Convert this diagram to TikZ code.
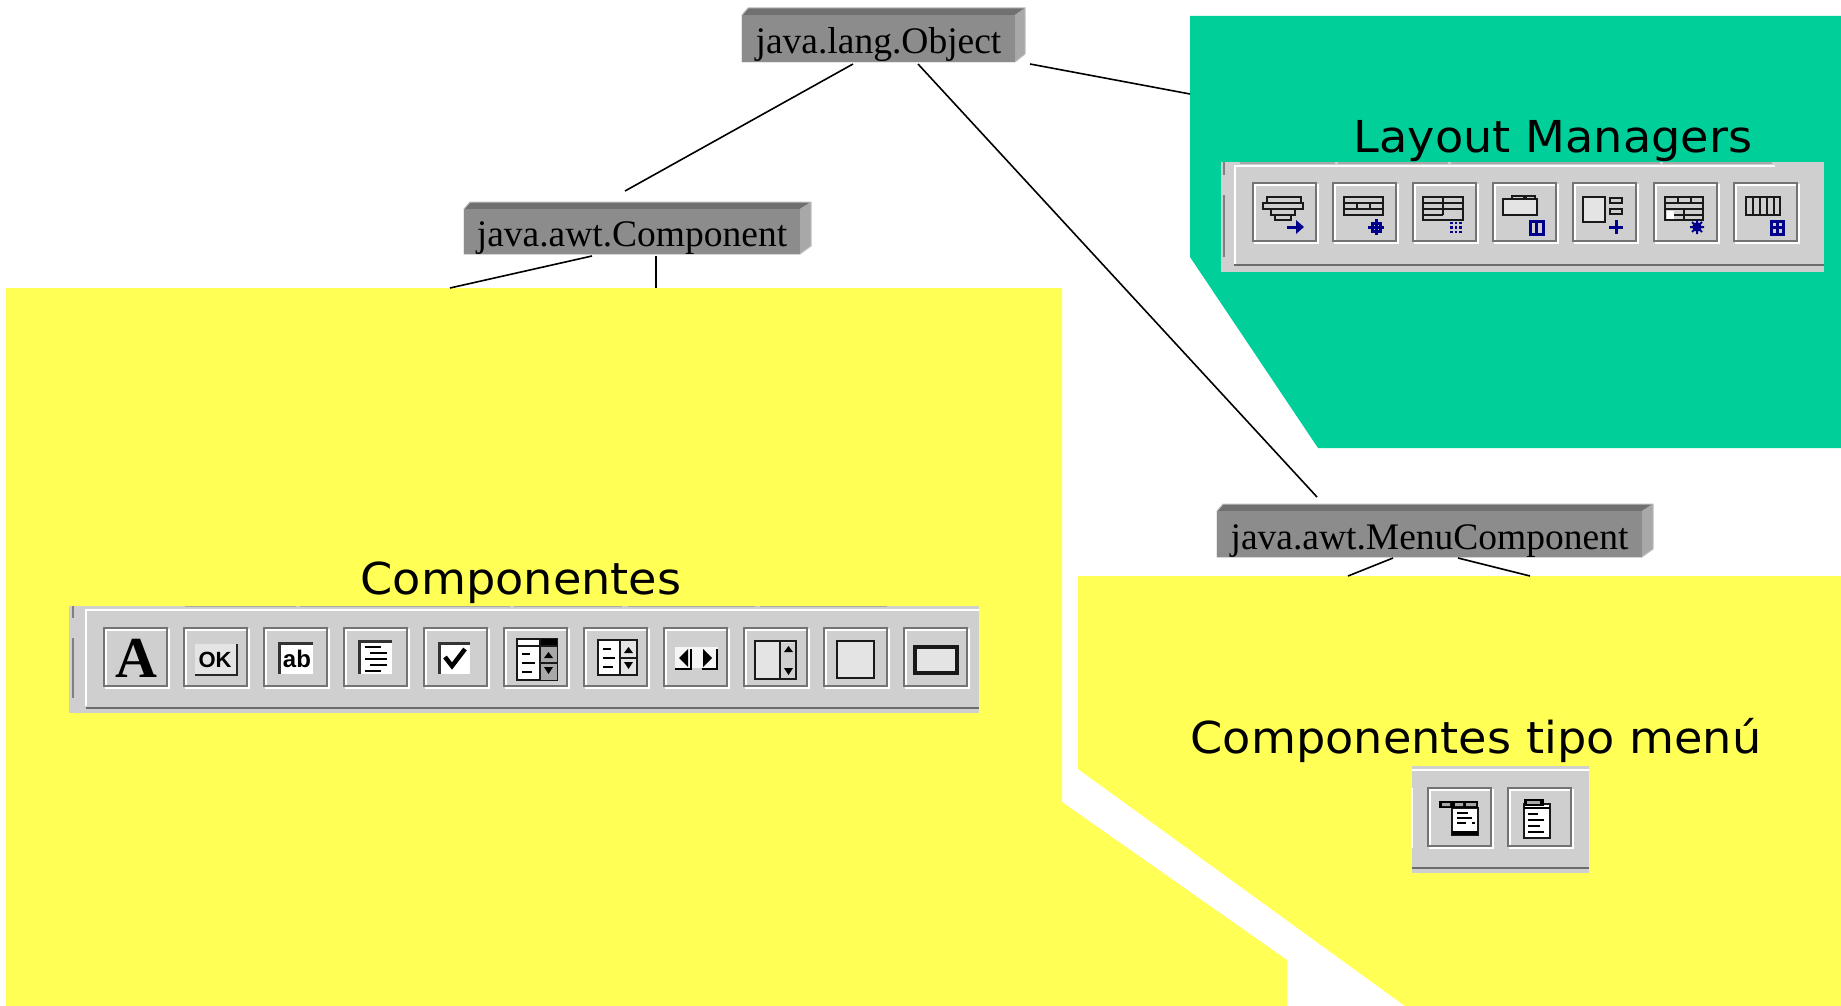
\documentclass[tikz,border=0pt]{standalone}
\usepackage{fontspec}
\setmainfont{Liberation Serif}
\newfontfamily\headfont[FakeStretch=1.05]{DejaVu Sans}
\newfontfamily\iconsans{Liberation Sans}
\usetikzlibrary{calc}
\definecolor{teal1}{HTML}{00CF9A}
\definecolor{yel}{HTML}{FFFF55}
\definecolor{barg}{HTML}{CFCFCF}
\definecolor{frontg}{HTML}{8C8C8C}
\definecolor{topg}{HTML}{707070}
\definecolor{sideg}{HTML}{A8A8A8}
\definecolor{navy}{HTML}{00008C}
\definecolor{dith}{HTML}{E4E4E4}
\tikzset{
  conn/.style={draw=black,line width=1.6pt},
  classbox/.style={rectangle,fill=frontg,inner sep=0pt,text height=31pt,text depth=1pt,
    font=\fontsize{37.5}{40}\selectfont},
  head/.style={anchor=base,inner sep=0pt,font=\fontsize{44}{46}\headfont},
  ico/.style={draw=black!90,line width=2.9pt,line join=miter},
  icw/.style={ico,fill=white},
  icd/.style={ico,fill=dith},
  blu/.style={draw=navy,line width=3pt},
  tb/.style={fill=barg,draw=none},
  tbw/.style={draw=white,line width=2pt},
  tbd/.style={draw=gray!85!black,line width=2.6pt},
  btnd/.style={draw=gray!90!black,line width=2.2pt},
  btnw/.style={draw=white,line width=2.2pt},
}
% class box: name, front x1,y1,x2,y2, bevel outer x, outer y, text
\newcommand{\classbox}[8]{%
  \fill[topg] (#2,#3) -- (#2+6,#7) -- (#6,#7) -- (#4,#3) -- cycle;
  \fill[sideg] (#4,#3) -- (#6,#7) -- (#6,#5-8) -- (#4,#5) -- cycle;
  \draw[black!25,line width=1pt] (#2,#3) -- (#2+6,#7) -- (#6,#7) -- (#6,#5-8) -- (#4,#5) -- (#2,#5) -- cycle;
  \node[classbox,minimum width=#4pt-#2pt,minimum height=#5pt-#3pt] (#1) at ({(#2+#4)/2},{(#3+#5)/2}) {#8};
}
\newcommand{\tbtn}[3]{%
  \begin{scope}[shift={(#1,#2)}]
    \draw[btnw] (2,2) rectangle (65,60);
    \draw[btnd] (0,0) rectangle (63,58);
    #3
  \end{scope}}
\begin{document}
\begin{tikzpicture}[x=1pt,y=-1pt]
\useasboundingbox (0,0) rectangle (1841,1006);
\fill[white] (0,0) rectangle (1841,1006);
% regions
\fill[teal1] (1190,16) -- (1841,16) -- (1841,448) -- (1318,448) -- (1190,257) -- cycle;
\fill[yel] (6,288) -- (1062,288) -- (1062,802) -- (1287,960) -- (1287,1006) -- (6,1006) -- cycle;
\fill[yel] (1078,576) -- (1841,576) -- (1841,1006) -- (1405,1006) -- (1078,769) -- cycle;
% class boxes
\classbox{obj}{742}{15}{1015}{62}{1025}{8}{java.lang.Object}
\classbox{comp}{464}{209}{800}{254}{811}{202}{java.awt.Component}
\classbox{menu}{1217}{511}{1642}{557}{1653}{504}{java.awt.MenuComponent}
% connector ends
\coordinate (o1) at (853,64);   \coordinate (c0) at (625,191);
\coordinate (o2) at (918,64);   \coordinate (m0) at (1317,497);
\coordinate (o3) at (1030,64);  \coordinate (l0) at (1190,94);
\coordinate (c1) at (592,256);  \coordinate (y1) at (450,288);
\coordinate (c2) at (656,256);  \coordinate (y2) at (656,288);
\coordinate (m1) at (1393,558); \coordinate (y3) at (1348,576);
\coordinate (m2) at (1458,558); \coordinate (y4) at (1530,576);
\draw[conn] (o1) -- (c0);
\draw[conn] (o2) -- (m0);
\draw[conn] (o3) -- (l0);
\draw[conn] (c1) -- (y1);
\draw[conn] (c2) -- (y2);
\draw[conn] (m1) -- (y3);
\draw[conn] (m2) -- (y4);
% headings
\node[head] (hl) at (1553,152) {Layout Managers};
\node[head] (hc) at (521,594) {Componentes};
\node[head] (hm) at (1476,753) {Componentes tipo menú};
% ---------- layout toolbar
\fill[tb] (1221,162) rectangle (1824,272);
\draw[tbw] (1235,264) -- (1235,166) -- (1775,166);
\draw[sideg,line width=1.2pt] (1240,163) -- (1335,163) (1338,163) -- (1448,163) (1451,163) -- (1660,163) (1663,163) -- (1772,163);
\draw[tbd] (1234,265) -- (1824,265);
\draw[gray,line width=1.5pt] (1224,162) -- (1224,175) (1224,195) -- (1224,257);
\tbtn{1253}{183}{
  \draw[ico] (14,14) rectangle (48,20) (10,20) rectangle (50,26) (18,26) rectangle (42,32) (22,32) rectangle (38,37);
  \draw[blu] (34,44) -- (44,44); \fill[navy] (43,37) -- (51,44) -- (43,51) -- cycle;
}
\tbtn{1333}{183}{
  \draw[ico] (11,14) rectangle (50,32) (11,20) -- (50,20) (11,26) -- (50,26) (24,20) -- (24,26) (37,20) -- (37,26);
  \draw[blu] (43,36) -- (43,52) (35,44) -- (51,44);
  \draw[blu] (39,40) rectangle (47,48);
}
\tbtn{1413}{183}{
  \draw[ico] (10,14) rectangle (50,37) (10,20) -- (50,20) (10,26) -- (50,26) (10,32) -- (30,32) (30,14) -- (30,32);
  \draw[navy,line width=2.8pt,dash pattern=on 2.8pt off 1.8pt] (37,40) -- (50,40) (37,44.5) -- (50,44.5) (37,49) -- (50,49);
}
\tbtn{1493}{183}{
  \draw[icd] (10,16) rectangle (44,32);
  \draw[ico] (19,16) -- (19,13) -- (31,13) -- (31,16) (33,16) -- (33,13) -- (42,13) -- (42,16);
  \draw[blu] (37,38) rectangle (50,51) (43.5,38) -- (43.5,51);
}
\tbtn{1573}{183}{
  \draw[icd] (10,14) rectangle (32,39);
  \draw[ico] (37,15) rectangle (49,20) (37,26) rectangle (49,31);
  \draw[blu] (43,37) -- (43,51) (36,44) -- (50,44);
}
\tbtn{1654}{183}{
  \draw[ico] (11,14) rectangle (49,37) (11,20) -- (49,20) (11,26) -- (49,26) (20,32) -- (49,32) (24,14) -- (24,20) (37,14) -- (37,20) (30,26) -- (30,37);
  \fill[white] (13,27.5) rectangle (20,35.5);
  \draw[navy,line width=2.4pt] (43,44) circle (3.5);
  \draw[navy,line width=2pt] (43,37) -- (43,51) (36,44) -- (50,44) (38,39) -- (48,49) (38,49) -- (48,39);
}
\tbtn{1734}{183}{
  \draw[ico] (12,14) rectangle (46,32) (19,14) -- (19,32) (26,14) -- (26,32) (33,14) -- (33,32) (40,14) -- (40,32);
  \draw[blu] (37,38) rectangle (49,51) (43,38) -- (43,51) (37,44.5) -- (49,44.5);
}
% ---------- component toolbar
\fill[tb] (69,606) rectangle (979,713);
\draw[tbw] (86,706) -- (86,610) -- (979,610);
\draw[tbd] (86,708) -- (979,708);
\draw[gray,line width=1.5pt] (73,606) -- (73,618) (73,638) -- (73,698);
\draw[sideg,line width=1.2pt] (185,606.5) -- (296,606.5) (300,606.5) -- (510,606.5) (514,606.5) -- (622,606.5) (628,606.5) -- (755,606.5) (760,606.5) -- (887,606.5);
\tbtn{104}{628}{
  \node[inner sep=0pt] (ia) at (32,30) {\fontsize{58}{58}\selectfont\bfseries A};
}
\tbtn{184}{628}{
  \fill[dith] (11,16) rectangle (53,47);
  \draw[black!85,line width=2.8pt] (53,16) -- (53,47) -- (11,47);
  \node[inner sep=0pt] (iok) at (31,32) {\fontsize{22}{22}\iconsans\bfseries OK};
}
\tbtn{264}{628}{
  \fill[white] (14,14) rectangle (49,46);
  \draw[black!80,line width=3pt] (15,46) -- (15,15) -- (49,15);
  \node[inner sep=0pt] (iab) at (33,31) {\fontsize{24}{24}\iconsans\bfseries ab};
}
\tbtn{344}{628}{
  \fill[white] (14,12) rectangle (48,46);
  \draw[black!80,line width=3pt] (15,46) -- (15,13) -- (48,13);
  \draw[black,line width=2.6pt] (21,19) -- (37,19) (26,25) -- (43,25) (21,31) -- (43,31) (26,37) -- (43,37) (21,43) -- (37,43);
}
\tbtn{424}{628}{
  \fill[white] (14,14) rectangle (46,46);
  \draw[black!80,line width=3pt] (15,46) -- (15,15) -- (46,15);
  \draw[black,line width=4.5pt] (21,29) -- (28,38) -- (41,21);
}
\tbtn{504}{628}{
  \draw[icw] (13,11) rectangle (53,52);
  \fill[black] (36,11) rectangle (53,18); \fill[white] (15,13) rectangle (34,17);
  \fill[sideg] (37,19) rectangle (53,52);
  \draw[ico] (13,18) -- (53,18) (36,11) -- (36,52) (36,35) -- (53,35);
  \draw[black,line width=2.6pt] (18,26) -- (26,26) (18,35) -- (31,35) (18,44) -- (28,44);
  \fill[black] (40,30) -- (44.5,24) -- (49,30) -- cycle;
  \fill[black] (40,39) -- (44.5,46) -- (49,39) -- cycle;
}
\tbtn{584}{628}{
  \draw[icw] (14,12) rectangle (53,47);
  \fill[dith] (37,13) rectangle (52,46);
  \draw[ico] (36,12) -- (36,47) (36,30) -- (53,30);
  \draw[black,line width=2.6pt] (19,21) -- (27,21) (19,30) -- (31,30) (19,39) -- (29,39);
  \fill[black] (40,25) -- (44.5,19) -- (49,25) -- cycle;
  \fill[black] (40,34) -- (44.5,41) -- (49,34) -- cycle;
}
\tbtn{664}{628}{
  \fill[white!92!gray] (11,19) rectangle (54,40);
  \fill[black] (24,21) -- (15,30) -- (24,39) -- cycle;
  \fill[black] (39,21) -- (48,30) -- (39,39) -- cycle;
  \draw[black,line width=2.6pt] (11,41) -- (27,41) -- (27,21) (38,41) -- (53,41) -- (53,21);
}
\tbtn{744}{628}{
  \draw[icd] (11,13) rectangle (52,51);
  \fill[dith!80!gray] (37,14.5) rectangle (50.5,49.5);
  \draw[ico] (36,13) -- (36,51);
  \fill[black] (40,24) -- (44.5,18) -- (49,24) -- cycle;
  \fill[black] (40,40) -- (44.5,47) -- (49,40) -- cycle;
}
\tbtn{824}{628}{
  \draw[icd] (13,13) rectangle (50,50);
}
\tbtn{904}{628}{
  \draw[icd,line width=3.2pt] (11,19) rectangle (53,45);
}
% ---------- menu toolbar
\fill[tb] (1412,766) rectangle (1589,873);
\draw[tbw] (1412,770) -- (1589,770);
\draw[white,line width=1.5pt] (1412,788) -- (1412,848);
\draw[tbd] (1412,868) -- (1589,868);
\tbtn{1428}{788}{
  \draw[icw] (24,20) rectangle (50,47);
  \fill[black] (11,13) rectangle (50,20);
  \fill[sideg] (14,15) rectangle (22,18) (27,15) rectangle (35,18) (38,15) rectangle (48,18);
  \draw[black,line width=2.6pt] (29,25) -- (40,25) (29,30) -- (44,30) (29,35) -- (38,35) (44,35) -- (47,35);
  \draw[black,line width=3.5pt] (24,45) -- (50,45);
}
\tbtn{1508}{788}{
  \draw[icw] (16,16) rectangle (42,50);
  \fill[black] (16,11) rectangle (36,18);
  \fill[sideg] (19,13) rectangle (32,16);
  \draw[black,line width=2.6pt] (16,20) -- (42,20) (20,26) -- (30,26) (20,32) -- (36,32) (20,38) -- (32,38) (20,44) -- (36,44);
}
\end{tikzpicture}
\end{document}
